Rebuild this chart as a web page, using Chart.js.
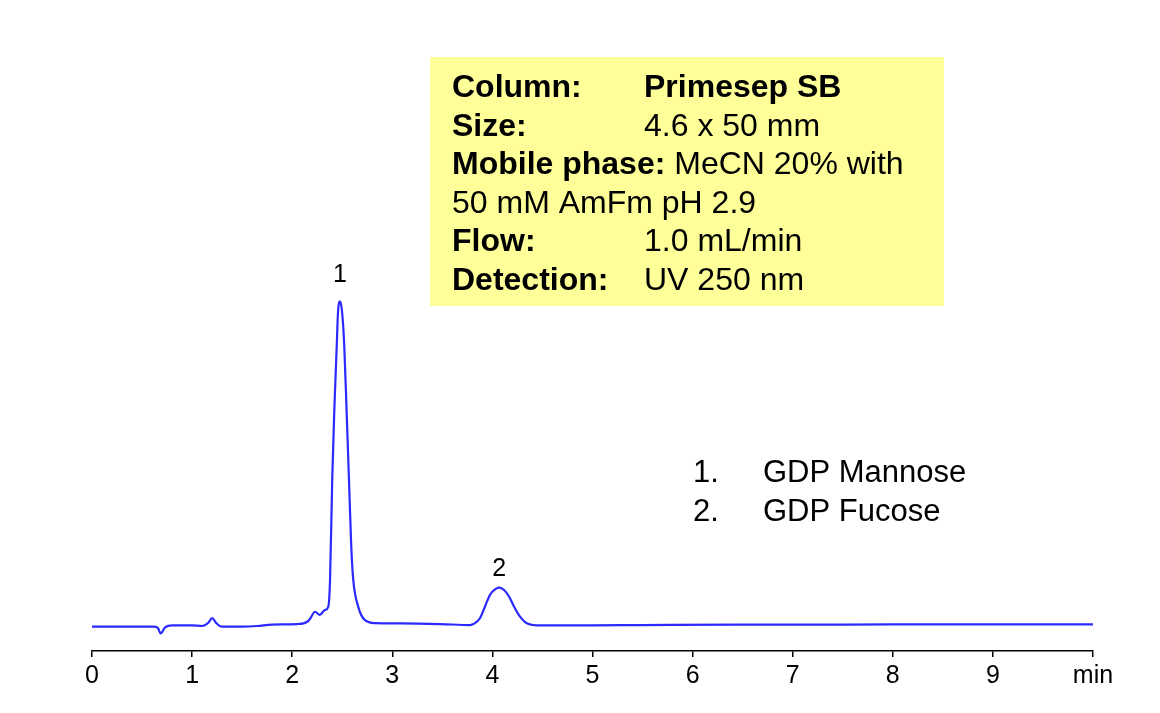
<!DOCTYPE html>
<html>
<head>
<meta charset="utf-8">
<script src="https://cdn.jsdelivr.net/npm/chart.js@4.4.1/dist/chart.umd.min.js"></script>
<style>
  html, body { margin: 0; padding: 0; background: #fff; }
  canvas { display: block; }
</style>
</head>
<body>
<canvas id="chrom" width="1160" height="713"></canvas>
<script>
/* chromatogram – GDP Mannose / GDP Fucose on Primesep SB */

// retention time (min) and detector signal (arbitrary units)
const TIME = [
  0.00, 0.50, 0.62, 0.66, 0.686, 0.73, 0.80, 1.00, 1.10, 1.162, 1.20, 1.245, 1.295,
  1.50, 1.65, 1.80, 2.05, 2.15, 2.18, 2.228, 2.275, 2.325, 2.36, 2.378, 2.40, 2.42,
  2.445, 2.458, 2.478, 2.498, 2.52, 2.544, 2.567, 2.59, 2.61, 2.66, 2.727, 2.827,
  3.08, 3.48, 3.78, 3.81, 3.876, 3.926, 3.976, 4.026, 4.069, 4.116, 4.166, 4.216,
  4.276, 4.349, 4.48, 4.975, 5.5, 6.5, 7.5, 8.5, 10.0
];
const SIGNAL = [
  -0.5, -0.5, -0.5, -1.0, -2.6, -0.7, -0.1, -0.1, -0.3, 0.7, 2.1, 0.5, -0.5,
  -0.5, -0.3, 0.15, 0.3, 1.0, 2.0, 4.1, 3.1, 4.6, 5.6, 13.9, 44.9, 65.6,
  86.1, 96.6, 99.7, 96.6, 86.1, 65.6, 44.9, 24.2, 13.9, 5.6, 1.5, 0.6,
  0.5, 0.3, 0.0, 0.3, 2.1, 5.7, 9.3, 11.0, 11.5, 10.8, 8.8, 5.7,
  2.6, 0.5, -0.1, -0.1, 0.0, 0.15, 0.15, 0.2, 0.2
];
const X_TICKS = ['0', '1', '2', '3', '4', '5', '6', '7', '8', '9', 'min'];

const PEAK_NUMS = ['1', '2'];
const PEAK_TIMES = [2.478, 4.069];
const PEAK_TOPS = [99.7, 11.5];
const PEAK_NAMES = ['GDP Mannose', 'GDP Fucose'];

const COND_LABELS = ['Column:', 'Size:', 'Mobile phase:', '', 'Flow:', 'Detection:'];
const COND_VALUES = ['Primesep SB', '4.6 x 50 mm', 'MeCN 20% with', '50 mM AmFm pH 2.9', '1.0 mL/min', 'UV 250 nm'];

const FONT = '"Liberation Sans", Arial, sans-serif';

const notes = {
  id: 'notes',
  afterDraw(chart) {
    const ctx = chart.ctx, xs = chart.scales.x, ys = chart.scales.y;
    ctx.save();
    ctx.fillStyle = '#000';
    ctx.textBaseline = 'alphabetic';

    // peak numbers
    ctx.font = '25px ' + FONT;
    ctx.textAlign = 'center';
    PEAK_NUMS.forEach((n, i) => {
      ctx.fillText(n, xs.getPixelForValue(PEAK_TIMES[i]), ys.getPixelForValue(PEAK_TOPS[i]) - (i === 0 ? 19 : 12));
    });

    // conditions box
    ctx.fillStyle = '#ffff99';
    ctx.fillRect(430, 57, 514, 249);
    ctx.fillStyle = '#000';
    ctx.textAlign = 'left';
    COND_LABELS.forEach((lab, i) => {
      const yb = 97 + i * 38.5;
      ctx.font = 'bold 32px ' + FONT;
      ctx.fillText(lab, 452, yb);
      let vx = 644;
      if (lab === 'Mobile phase:') vx = 452 + ctx.measureText(lab + ' ').width;
      if (lab === '') vx = 452;
      ctx.font = (i === 0 ? 'bold ' : '') + '32px ' + FONT;
      ctx.fillText(COND_VALUES[i], vx, yb);
    });

    // peak legend
    ctx.font = '31px ' + FONT;
    PEAK_NAMES.forEach((name, i) => {
      const yb = 482 + i * 38.5;
      ctx.fillText(PEAK_NUMS[i] + '.', 693, yb);
      ctx.fillText(name, 763, yb);
    });
    ctx.restore();
  }
};

new Chart(document.getElementById('chrom'), {
  type: 'line',
  data: {
    datasets: [{
      data: TIME.map((t, i) => ({ x: t, y: SIGNAL[i] })),
      borderColor: '#2a2aff',
      borderWidth: 2.2,
      pointRadius: 0,
      fill: false,
      cubicInterpolationMode: 'monotone'
    }]
  },
  options: {
    responsive: false,
    animation: false,
    layout: { padding: { left: 92, right: 67, top: 10, bottom: 18 } },
    plugins: { legend: { display: false }, tooltip: { enabled: false } },
    scales: {
      x: {
        type: 'linear', min: 0, max: 10,
        border: { color: '#000', width: 1.5 },
        grid: { drawOnChartArea: false, color: '#000', tickLength: 6, lineWidth: 1.5 },
        ticks: {
          stepSize: 1, autoSkip: false, maxRotation: 0, padding: 4,
          color: '#000', font: { family: FONT, size: 25 },
          callback: v => X_TICKS[v]
        }
      },
      y: { display: false, min: -8, max: 189.5 }
    }
  },
  plugins: [notes]
});
</script>
</body>
</html>
